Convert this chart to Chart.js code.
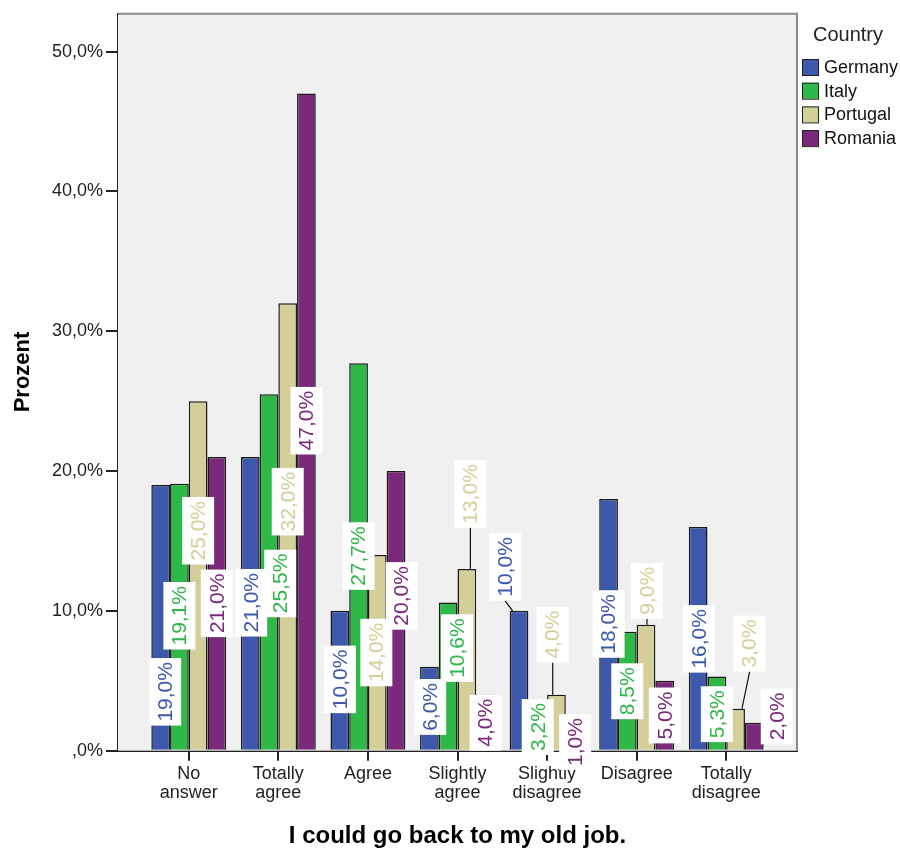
<!DOCTYPE html>
<html>
<head>
<meta charset="utf-8">
<script src="https://cdn.jsdelivr.net/npm/chart.js@4/dist/chart.umd.min.js"></script>
<style>
  html, body { margin: 0; padding: 0; background: #fff; }
  #wrap { width: 900px; height: 851px; }
</style>
</head>
<body>
<div id="wrap"><canvas id="chart" width="900" height="851"></canvas></div>
<script>
// categories and values (percent)
const categories = ["No answer", "Totally agree", "Agree", "Slightly agree", "Slightly disagree", "Disagree", "Totally disagree"];
const countries = ["Germany", "Italy", "Portugal", "Romania"];
const germany  = [19.0, 21.0, 10.0, 6.0, 10.0, 18.0, 16.0];
const italy    = [19.1, 25.5, 27.7, 10.6, 3.2, 8.5, 5.3];
const portugal = [25.0, 32.0, 14.0, 13.0, 4.0, 9.0, 3.0];
const romania  = [21.0, 47.0, 20.0, 4.0, 1.0, 5.0, 2.0];
const yTicks = [0, 10, 20, 30, 40, 50];

const colors = ["#3e58ac", "#2eb848", "#d4cf98", "#7b2a7b"];

// where SPSS put each value label (centre, in % units) and sideways shift in bar widths
const labelAt = [
  [4.21, 10.58, 5.1, 3.13, 13.14, 9.06, 8.0],
  [9.65, 11.96, 13.92, 7.34, 1.69, 4.25, 2.61],
  [15.73, 17.81, 7.02, 18.36, 8.3, 11.43, 7.66],
  [10.54, 23.6, 11.07, 2.0, 0.62, 2.52, 2.45]
];
const labelShift = [
  [0.24, 0.05, 0, 0.04, -0.75, 0, 0.05],
  [0, 0.6, 0, 0.48, 0, 0, 0],
  [0, 0, -0.05, 0.19, -0.2, 0.05, 0.75],
  [0, 0, 0.3, 0, 0, 0, 1.2]
];

const series = [germany, italy, portugal, romania];
const fmt = v => (v === 0 ? ",0%" : v.toFixed(1).replace(".", ",") + "%");

const framePlugin = {
  id: "frame",
  beforeDatasetsDraw(chart) {
    const { ctx, chartArea: a } = chart;
    ctx.save();
    ctx.fillStyle = "#f0f0f0";
    ctx.fillRect(a.left, a.top, a.right - a.left, a.bottom - a.top);
    ctx.restore();
  },
  afterDraw(chart) {
    const { ctx, chartArea: a } = chart;
    ctx.save();
    ctx.strokeStyle = "#8a8a8a";
    ctx.lineWidth = 2;
    ctx.beginPath();
    ctx.moveTo(a.left, a.top);
    ctx.lineTo(a.right, a.top);
    ctx.lineTo(a.right, a.bottom);
    ctx.stroke();

    // axis titles
    ctx.fillStyle = "#000";
    ctx.font = "bold 22px 'Liberation Sans', Arial, sans-serif";
    ctx.textAlign = "center";
    ctx.textBaseline = "middle";
    ctx.save();
    ctx.translate(23, 372);
    ctx.rotate(-Math.PI / 2);
    ctx.fillText("Prozent", 0, 0);
    ctx.restore();
    ctx.font = "bold 24px 'Liberation Sans', Arial, sans-serif";
    ctx.textBaseline = "alphabetic";
    ctx.fillText("I could go back to my old job.", (a.left + a.right) / 2, 843);

    // legend
    ctx.textAlign = "left";
    ctx.textBaseline = "middle";
    ctx.fillStyle = "#222";
    ctx.font = "20px 'Liberation Sans', Arial, sans-serif";
    ctx.fillText("Country", 813, 35);
    ctx.font = "18px 'Liberation Sans', Arial, sans-serif";
    countries.forEach((name, i) => {
      const top = 59 + i * 23.7;
      ctx.fillStyle = colors[i];
      ctx.fillRect(802, top, 16, 16);
      ctx.strokeStyle = "#222";
      ctx.lineWidth = 1;
      ctx.strokeRect(802.5, top + 0.5, 16, 16);
      ctx.fillStyle = "#111";
      ctx.fillText(name, 824, top + 9);
    });
    ctx.restore();
  }
};

const labelPlugin = {
  id: "valueLabels",
  afterDatasetsDraw(chart) {
    const { ctx } = chart;
    const yScale = chart.scales.y;
    ctx.save();
    ctx.font = "21px 'Liberation Sans', Arial, sans-serif";
    series.forEach((vals, i) => {
      const meta = chart.getDatasetMeta(i);
      meta.data.forEach((bar, j) => {
        const text = fmt(vals[j]);
        const cx = bar.x + labelShift[i][j] * bar.width;
        const cy = yScale.getPixelForValue(labelAt[i][j]);
        const len = ctx.measureText(text).width + 8;
        const boxBottom = cy + len / 2;
        // leader line if the label sits above the bar
        if (boxBottom < bar.y - 2) {
          const lx = Math.min(Math.max(cx, bar.x - bar.width / 2 + 3), bar.x + bar.width / 2 - 3);
          ctx.strokeStyle = "#111";
          ctx.lineWidth = 1.2;
          ctx.beginPath();
          ctx.moveTo(cx, boxBottom);
          ctx.lineTo(lx, bar.y);
          ctx.stroke();
        }
        ctx.save();
        ctx.translate(cx, cy);
        ctx.rotate(-Math.PI / 2);
        ctx.fillStyle = "#fff";
        ctx.fillRect(-len / 2, -16, len, 32);
        ctx.fillStyle = colors[i];
        ctx.textAlign = "center";
        ctx.textBaseline = "middle";
        ctx.fillText(text, 0, 1);
        ctx.restore();
      });
    });
    ctx.restore();
  }
};

new Chart(document.getElementById("chart"), {
  type: "bar",
  data: {
    datasets: countries.map((name, i) => ({
      label: name,
      data: series[i].map((v, j) => ({ x: j, y: v })),
      backgroundColor: colors[i],
      borderColor: "#1a1a1a",
      borderWidth: 1.5,
      categoryPercentage: 0.836,
      barPercentage: 1.0
    }))
  },
  options: {
    responsive: false,
    animation: false,
    layout: { padding: { top: 10, right: 103, left: 0, bottom: 0 } },
    plugins: {
      legend: { display: false },
      tooltip: { enabled: false }
    },
    scales: {
      x: {
        type: "linear",
        offset: false,
        min: -0.79,
        max: 6.79,
        afterBuildTicks(scale) {
          scale.ticks = categories.map((c, i) => ({ value: i }));
        },
        afterFit(scale) { scale.height = 100.3; },
        grid: { offset: false, drawOnChartArea: false, color: "#222", lineWidth: 2, tickLength: 10 },
        border: { color: "#222", width: 2 },
        ticks: {
          autoSkip: false,
          maxRotation: 0,
          padding: 4,
          color: "#222",
          font: { family: "'Liberation Sans', Arial, sans-serif", size: 18, lineHeight: 1.05 },
          callback: v => categories[v].split(" ")
        }
      },
      y: {
        min: 0,
        max: 52.7,
        afterBuildTicks(scale) {
          scale.ticks = yTicks.map(v => ({ value: v }));
        },
        afterFit(scale) { scale.width = 118; },
        grid: { drawOnChartArea: false, color: "#222", lineWidth: 2, tickLength: 12 },
        border: { color: "#222", width: 2 },
        ticks: {
          padding: 3,
          color: "#222",
          font: { family: "'Liberation Sans', Arial, sans-serif", size: 18 },
          callback: v => fmt(v)
        }
      }
    }
  },
  plugins: [framePlugin, labelPlugin]
});
</script>
</body>
</html>
